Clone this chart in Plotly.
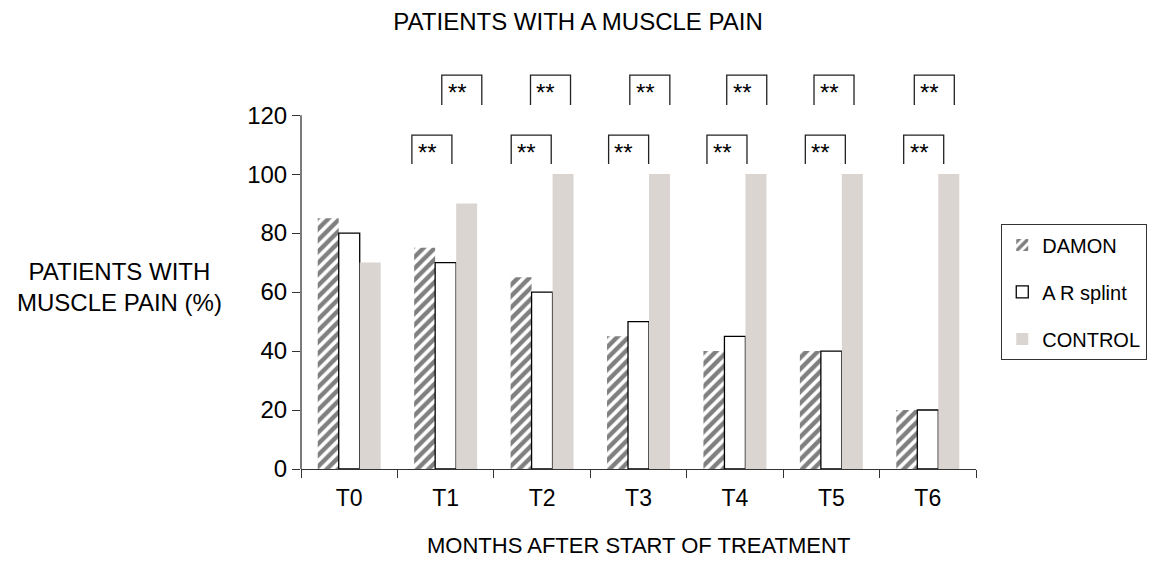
import plotly.graph_objects as go

categories = ["T0", "T1", "T2", "T3", "T4", "T5", "T6"]
damon = [85, 75, 65, 45, 40, 40, 20]
ar_splint = [80, 70, 60, 50, 45, 40, 20]
control = [70, 90, 100, 100, 100, 100, 100]
y_ticks = [0, 20, 40, 60, 80, 100, 120]

# significance brackets (category index, left offset of bracket within category)
sig_lower_idx = [1, 2, 3, 4, 5, 6]
sig_lower_off = [-0.35, -0.32, -0.31, -0.29, -0.27, -0.25]
sig_upper_idx = [1, 2, 3, 4, 5, 6]
sig_upper_off = [-0.04, -0.12, -0.09, -0.085, -0.18, -0.14]
sig_label = "**"

FONT = "Liberation Sans, Arial, sans-serif"

fig = go.Figure()
fig.add_trace(go.Bar(
    x=categories, y=damon, name="DAMON", legendgroup="a",
    marker=dict(color="white", line=dict(width=0),
                pattern=dict(shape="/", fgcolor="black", bgcolor="white", size=8, solidity=0.55)),
))
fig.add_trace(go.Bar(
    x=categories, y=ar_splint, name="A R splint", legendgroup="b",
    marker=dict(color="white", line=dict(color="black", width=1.3)),
))
fig.add_trace(go.Bar(
    x=categories, y=control, name="CONTROL", legendgroup="c",
    marker=dict(color="#dbd5d2", line=dict(width=0)),
))

shapes = []
annotations = []
bw = 0.415
def bracket(xc, y0, y1):
    shapes.append(dict(type="path", xref="x", yref="y",
                       path=f"M {xc},{y0} L {xc},{y1} L {xc+bw},{y1} L {xc+bw},{y0}",
                       line=dict(color="#222", width=1.3)))
    annotations.append(dict(x=xc + 0.04, y=y1 - 0.6, xref="x", yref="y", text=sig_label,
                            showarrow=False, xanchor="left", yanchor="top",
                            font=dict(size=24, color="black", family=FONT)))

for i, o in zip(sig_lower_idx, sig_lower_off):
    bracket(i + o, 103.4, 113.2)
for i, o in zip(sig_upper_idx, sig_upper_off):
    bracket(i + o, 123.4, 133.6)

# y axis line only up to 120
shapes.append(dict(type="line", xref="paper", yref="y", x0=0, x1=0, y0=0, y1=120,
                   line=dict(color="#333", width=1.3)))

annotations.append(dict(x=-0.2694, y=0.4505, xref="paper", yref="paper",
                        xanchor="center", yanchor="middle",
                        text="PATIENTS WITH<br>MUSCLE PAIN (%)", showarrow=False,
                        font=dict(size=24, color="black", family=FONT), align="center"))
annotations.append(dict(x=0.5, y=-0.19, xref="paper", yref="paper",
                        xanchor="center", yanchor="middle",
                        text="MONTHS AFTER START OF TREATMENT", showarrow=False,
                        font=dict(size=22, color="black", family=FONT)))

fig.update_layout(
    width=1147, height=560,
    margin=dict(l=293, r=178.5, t=57, b=99),
    paper_bgcolor="white", plot_bgcolor="white",
    barmode="group", bargap=0.347, bargroupgap=0,
    title=dict(text="PATIENTS WITH A MUSCLE PAIN", x=0.497, xref="container", xanchor="center",
               y=0.975, yref="container", yanchor="middle",
               font=dict(size=24, color="black", family=FONT)),
    font=dict(family=FONT, color="black"),
    xaxis=dict(type="category", showline=True, linecolor="#333", linewidth=1.3,
               ticks="outside", tickson="boundaries", ticklen=8, tickcolor="#333", tickwidth=1.3,
               tickfont=dict(size=23), showgrid=False, zeroline=False, ticklabelstandoff=8),
    yaxis=dict(range=[0, 137], tickvals=y_ticks, showline=False,
               ticks="outside", ticklen=8, tickcolor="#333", tickwidth=1.3, tickfont=dict(size=24),
               showgrid=False, zeroline=False),
    legend=dict(x=0.8657, y=0.614, xref="container", yref="container",
                xanchor="left", yanchor="top",
                bordercolor="#333", borderwidth=1.3, tracegroupgap=18,
                font=dict(size=20, color="black"), itemwidth=30, traceorder="grouped"),
    shapes=shapes, annotations=annotations,
)

fig.write_html("out.html")
